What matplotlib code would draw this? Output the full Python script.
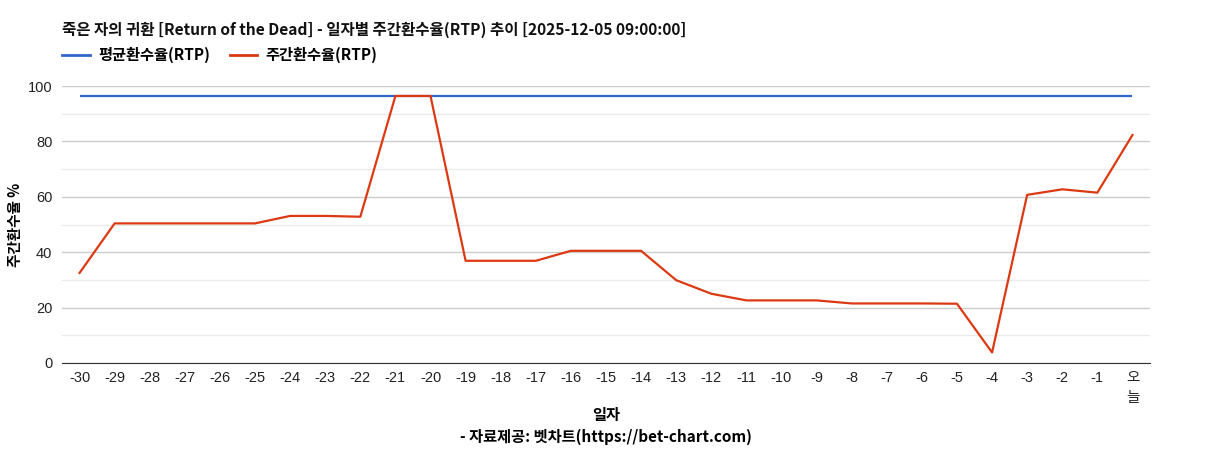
import matplotlib
matplotlib.use("Agg")
import matplotlib.pyplot as plt
from matplotlib.lines import Line2D

# Data
days = ['-30', '-29', '-28', '-27', '-26', '-25', '-24', '-23', '-22', '-21',
        '-20', '-19', '-18', '-17', '-16', '-15', '-14', '-13', '-12', '-11',
        '-10', '-9', '-8', '-7', '-6', '-5', '-4', '-3', '-2', '-1', '오\n늘']
weekly_rtp = [32.5, 50.4, 50.4, 50.4, 50.4, 50.4, 53.1, 53.1, 52.8, 96.4,
              96.4, 36.9, 36.9, 36.9, 40.5, 40.5, 40.5, 29.9, 25.0, 22.6,
              22.6, 22.6, 21.5, 21.5, 21.5, 21.4, 3.8, 60.7, 62.7, 61.5, 82.3]
avg_rtp = [96.4] * len(days)

title = "죽은 자의 귀환 [Return of the Dead] - 일자별 주간환수율(RTP) 추이 [2025-12-05 09:00:00]"
kfont = ['Noto Sans CJK KR', 'DejaVu Sans']
nfont = ['Liberation Sans', 'Noto Sans CJK KR']

fig = plt.figure(figsize=(12.11, 4.5), dpi=100)
W, H = 1211, 450
ax = fig.add_axes([62 / W, (H - 363) / H, (1150 - 62) / W, (363 - 86) / H])

xx = list(range(len(days)))
ax.plot(xx, avg_rtp, color='#3366cc', lw=1.6, solid_capstyle='butt')
ax.plot(xx, weekly_rtp, color='#dc3912', lw=1.6, solid_joinstyle='round')

ax.set_xlim(-0.5, len(days) - 0.5)
ax.set_ylim(0, 100)
ax.set_yticks([0, 20, 40, 60, 80, 100])
ax.set_yticks([10, 30, 50, 70, 90], minor=True)
ax.grid(axis='y', which='major', color='#cccccc', lw=1)
ax.grid(axis='y', which='minor', color='#ebebeb', lw=1)
ax.set_axisbelow(True)
for s in ['top', 'right', 'left']:
    ax.spines[s].set_visible(False)
ax.spines['bottom'].set_color('#333333')
ax.tick_params(axis='both', which='both', length=0)
ax.tick_params(axis='y', pad=7)
ax.tick_params(axis='x', pad=6)
ax.set_xticks(xx)
ax.set_xticklabels(days, va='top', linespacing=1.5)
for lab in ax.get_xticklabels() + ax.get_yticklabels():
    lab.set_family(nfont)
    lab.set_fontsize(10.5)
    lab.set_color('#222222')

ax.set_ylabel("주간환수율 %", family=kfont, fontsize=10.5, fontweight='bold', va='center')
ax.yaxis.set_label_coords((15 - 62) / 1088, 0.5)

fig.text(62 / W, 1 - 30 / H, title, family=kfont, fontsize=11.2, fontweight='bold',
         va='center', ha='left', color='#111111')

handles = [Line2D([], [], color='#3366cc', lw=2), Line2D([], [], color='#dc3912', lw=2)]
leg = fig.legend(handles, ['평균환수율(RTP)', '주간환수율(RTP)'], loc='center left',
                 bbox_to_anchor=(62 / W, 1 - 55 / H), ncol=2, frameon=False,
                 prop={'family': kfont, 'size': 11, 'weight': 'bold'},
                 handlelength=1.8, handletextpad=0.55, columnspacing=1.3,
                 borderaxespad=0, borderpad=0)

fig.text(606 / W, 1 - 415 / H, "일자", family=kfont, fontsize=11, fontweight='bold',
         ha='center', va='center')
fig.text(606 / W, 1 - 437 / H, "- 자료제공: 벳차트(https://bet-chart.com)", family=kfont,
         fontsize=11, fontweight='bold', ha='center', va='center')

fig.savefig("out.png", dpi=100)
